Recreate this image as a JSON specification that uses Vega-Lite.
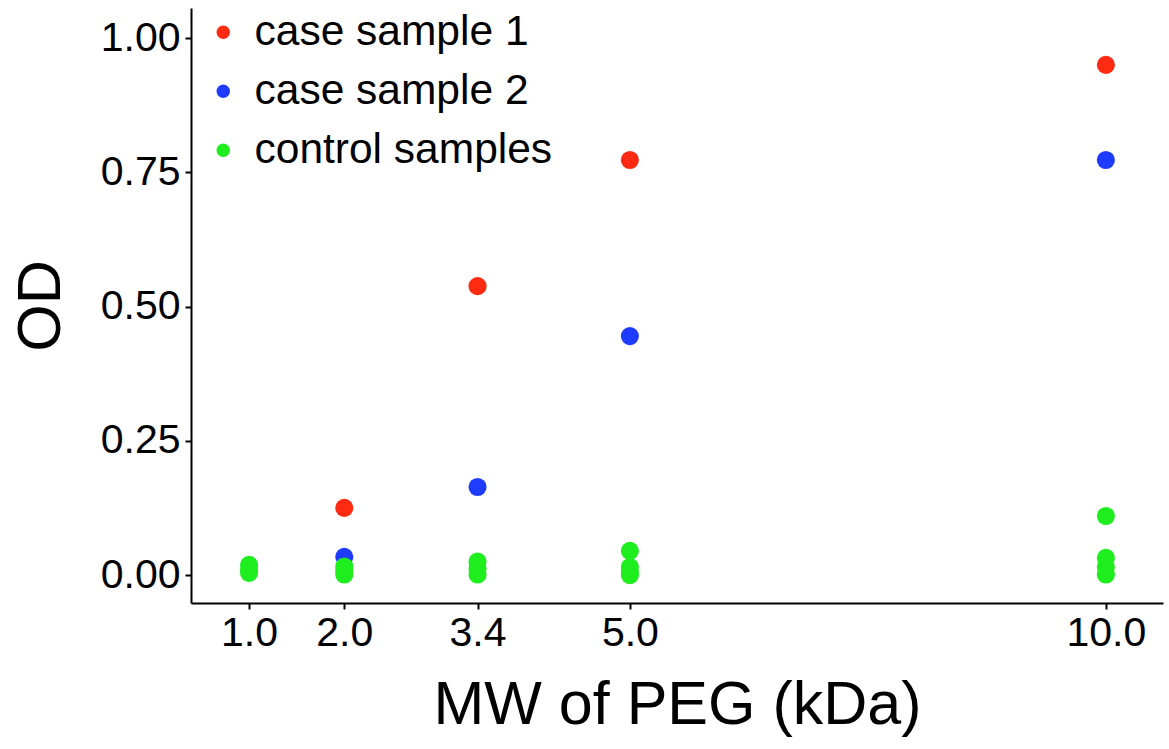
{
  "$schema": "https://vega.github.io/schema/vega-lite/v6.json",
  "autosize": "none",
  "width": 972,
  "height": 595,
  "padding": {"left": 191, "top": 8, "right": 6, "bottom": 146},
  "background": "white",
  "config": {
    "view": {"stroke": null},
    "font": "Liberation Sans",
    "axis": {"grid": false, "domainColor": "black", "domainWidth": 2, "tickColor": "black", "tickWidth": 2, "tickSize": 6, "labelColor": "black", "titleColor": "black", "labelFont": "Liberation Sans", "titleFont": "Liberation Sans", "titleFontWeight": "normal"}
  },
  "data": {
    "values": [
      {"mw": 2.0, "od": 0.125, "group": "case sample 1"},
      {"mw": 3.4, "od": 0.538, "group": "case sample 1"},
      {"mw": 5.0, "od": 0.773, "group": "case sample 1"},
      {"mw": 10.0, "od": 0.95, "group": "case sample 1"},
      {"mw": 2.0, "od": 0.034, "group": "case sample 2"},
      {"mw": 3.4, "od": 0.164, "group": "case sample 2"},
      {"mw": 5.0, "od": 0.445, "group": "case sample 2"},
      {"mw": 10.0, "od": 0.773, "group": "case sample 2"},
      {"mw": 1.0, "od": 0.019, "group": "control samples"},
      {"mw": 1.0, "od": 0.01, "group": "control samples"},
      {"mw": 1.0, "od": 0.004, "group": "control samples"},
      {"mw": 2.0, "od": 0.016, "group": "control samples"},
      {"mw": 2.0, "od": 0.008, "group": "control samples"},
      {"mw": 2.0, "od": 0.001, "group": "control samples"},
      {"mw": 3.4, "od": 0.025, "group": "control samples"},
      {"mw": 3.4, "od": 0.012, "group": "control samples"},
      {"mw": 3.4, "od": 0.001, "group": "control samples"},
      {"mw": 5.0, "od": 0.045, "group": "control samples"},
      {"mw": 5.0, "od": 0.015, "group": "control samples"},
      {"mw": 5.0, "od": 0.006, "group": "control samples"},
      {"mw": 5.0, "od": 0.0, "group": "control samples"},
      {"mw": 10.0, "od": 0.11, "group": "control samples"},
      {"mw": 10.0, "od": 0.032, "group": "control samples"},
      {"mw": 10.0, "od": 0.015, "group": "control samples"},
      {"mw": 10.0, "od": 0.001, "group": "control samples"}
    ]
  },
  "mark": {"type": "circle", "size": 330, "opacity": 1},
  "encoding": {
    "x": {
      "field": "mw", "type": "quantitative",
      "scale": {"domain": [0.39, 10.6], "nice": false, "zero": false},
      "axis": {"values": [1, 2, 3.4, 5, 10], "format": ".1f", "labelFontSize": 41, "labelPadding": 4, "title": "MW of PEG (kDa)", "titleFontSize": 61, "titlePadding": 22}
    },
    "y": {
      "field": "od", "type": "quantitative",
      "scale": {"domain": [-0.052, 1.056], "nice": false, "zero": false},
      "axis": {"values": [0, 0.25, 0.5, 0.75, 1.0], "format": ".2f", "labelFontSize": 41, "labelPadding": 5, "title": "OD", "titleFontSize": 61, "titlePadding": 28}
    },
    "color": {
      "field": "group", "type": "nominal",
      "scale": {"domain": ["case sample 1", "case sample 2", "control samples"], "range": ["#FF2A12", "#1E3CFF", "#1EEE1E"]},
      "legend": {"title": null, "orient": "none", "legendX": 11, "legendY": 3, "labelFontSize": 42.5, "labelLimit": 600, "labelColor": "black", "labelFont": "Liberation Sans", "symbolType": "circle", "symbolSize": 180, "symbolStrokeWidth": 0, "rowPadding": 16, "labelOffset": 10, "symbolOpacity": 1}
    }
  }
}
